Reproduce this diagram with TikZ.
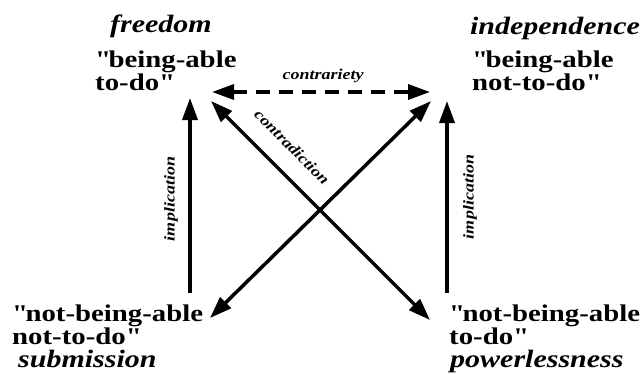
\documentclass[tikz,border=0pt]{standalone}
\usepackage{fontspec}
\setmainfont[FakeStretch=1.2]{Liberation Serif}
\usetikzlibrary{arrows.meta}

\newcommand{\qd}{\textquotedbl}

\tikzset{
  term/.style={font=\bfseries\fontsize{24}{21}\selectfont, align=left, inner sep=0pt, anchor=north west},
  modal/.style={font=\bfseries\itshape\fontsize{25}{25}\selectfont, inner sep=0pt},
  rel/.style={font=\bfseries\itshape\fontsize{15}{15}\selectfont, inner sep=0pt},
  arr/.style={line width=3.5pt, -{Triangle[length=22pt,width=15pt]}},
  darr/.style={line width=3.5pt, {Triangle[length=22pt,width=15pt]}-{Triangle[length=22pt,width=15pt]}},
}

\begin{document}
\begin{tikzpicture}[x=1pt,y=1pt]
    \useasboundingbox (0,0) rectangle (644,373);

    % Modalities
    \node[modal, anchor=base] (freedom) at (161,340) {freedom};
    \node[modal, anchor=base] (indep) at (555,338) {independence};
    \node[modal, anchor=base west] (submis) at (18,6) {submission};
    \node[modal, anchor=base west] (powerl) at (450,6) {powerlessness};

    % Terms
    \node[term] (bad) at (95,322) {\qd being-able\\to-do\qd};
    \node[term] (banot) at (472,322) {\qd being-able\\not-to-do\qd};
    \node[term] (nbanot) at (12,68) {\qd not-being-able\\not-to-do\qd};
    \node[term] (nbad) at (449,68) {\qd not-being-able\\to-do\qd};

    % Arrow ends
    \coordinate (tl) at (211,272);
    \coordinate (tr) at (431,272);
    \coordinate (bl) at (210,55);
    \coordinate (br) at (430,53);
    \coordinate (dl) at (212,281);
    \coordinate (dr) at (430,281);
    \coordinate (lv0) at (190,80);
    \coordinate (lv1) at (190,275);
    \coordinate (rv0) at (447,80);
    \coordinate (rv1) at (447,272);

    % Relations
    \draw[darr, dash pattern=on 14pt off 9pt] (dl) -- (dr);
    \draw[arr] (lv0) -- (lv1);
    \draw[arr] (rv0) -- (rv1);
    \draw[darr] (bl) -- (tr);
    \draw[darr] (br) -- (tl);

    % Labels
    \node[rel] (contrar) at (323,297) {contrariety};
    \node[rel, rotate=-45] (contrad) at (292,226) {contradiction};
    \node[rel, rotate=90] (impl1) at (171,174) {implication};
    \node[rel, rotate=90] (impl2) at (470,176) {implication};
\end{tikzpicture}
\end{document}
